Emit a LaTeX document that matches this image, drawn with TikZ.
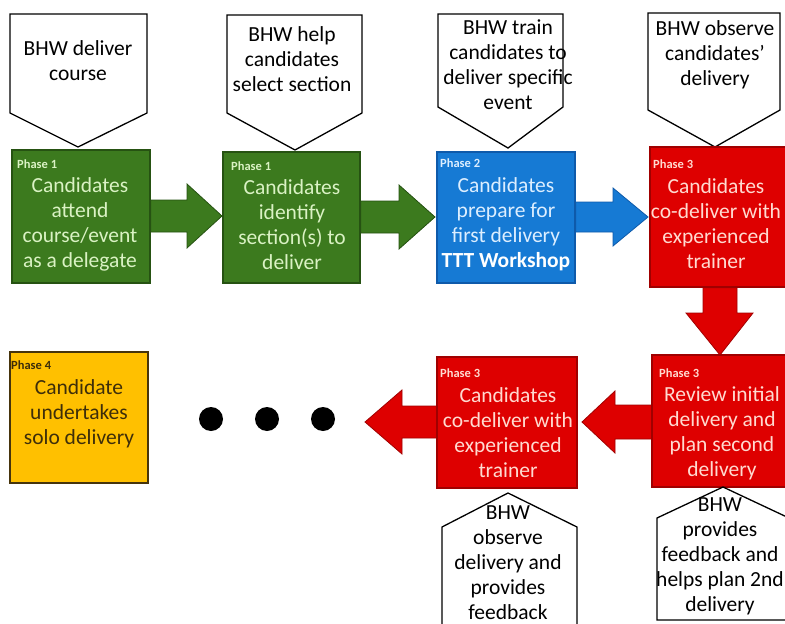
\documentclass[tikz,border=0pt]{standalone}
\usepackage{fontspec}
\setmainfont{Carlito}
\usetikzlibrary{calc}
\definecolor{gfill}{RGB}{60,122,30}
\definecolor{gedge}{RGB}{38,82,18}
\definecolor{gtext}{RGB}{218,242,196}
\definecolor{bfill}{RGB}{22,122,212}
\definecolor{bedge}{RGB}{14,90,170}
\definecolor{btext}{RGB}{220,238,255}
\definecolor{rfill}{RGB}{222,0,0}
\definecolor{redge}{RGB}{160,0,0}
\definecolor{rtext}{RGB}{255,218,208}
\definecolor{yfill}{RGB}{255,192,0}
\definecolor{yedge}{RGB}{70,52,12}
\definecolor{ytext}{RGB}{62,46,10}
\begin{document}
\begin{tikzpicture}[x=1pt,y=-1pt,
  boxst/.style={rectangle, line width=1.2pt, inner sep=0pt},
  gbox/.style={boxst, fill=gfill, draw=gedge},
  bbox/.style={boxst, fill=bfill, draw=bedge},
  rbox/.style={boxst, fill=rfill, draw=redge},
  ybox/.style={boxst, fill=yfill, draw=yedge},
  main/.style={font=\fontsize{21.5}{25}\selectfont, align=center, inner sep=0pt},
  phase/.style={font=\fontsize{12.5}{13}\selectfont\bfseries, anchor=west, inner sep=0pt},
  callout/.style={draw=black, line width=1.3pt, fill=white, line join=miter},
  garrow/.style={fill=gfill, draw=gedge, line width=0.8pt, line join=miter},
  barrow/.style={fill=bfill, draw=bedge, line width=0.8pt, line join=miter},
  rarrow/.style={fill=rfill, draw=redge, line width=0.8pt, line join=miter},
  dot/.style={circle, fill=black, minimum size=24pt, inner sep=0pt}
]
\useasboundingbox (0,0) rectangle (785,624);
\clip (0,0) rectangle (785,624);

% ---------- top callouts ----------
\draw[callout] (10,14) -- (147,14) -- (147,113) -- (78,147) -- (10,113) -- cycle;
\draw[callout] (227,15) -- (362,15) -- (362,113) -- (295,150) -- (227,113) -- cycle;
\draw[callout] (438,14) -- (563,14) -- (563,107) -- (508,148) -- (438,107) -- cycle;
\draw[callout] (648,13) -- (780,13) -- (780,110) -- (715,147) -- (648,110) -- cycle;
\node[main] (t1) at (78,61) {BHW deliver\\course};
\node[main] (t2) at (292,59) {BHW help\\candidates\\select section};
\node[main] (t3) at (508,65) {BHW train\\candidates to\\deliver specific\\event};
\node[main] (t4) at (715,55) {BHW observe\\candidates’\\delivery};

% ---------- boxes ----------
\node[gbox, minimum width=138pt, minimum height=133pt] (g1) at (81,216.5) {};
\node[gbox, minimum width=137pt, minimum height=131pt] (g2) at (291.5,217.5) {};
\node[bbox, minimum width=138pt, minimum height=131pt] (bl) at (506,217.5) {};
\node[rbox, minimum width=138pt, minimum height=140pt] (r1) at (719,217) {};
\node[rbox, minimum width=138pt, minimum height=132pt] (r2) at (721,421) {};
\node[rbox, minimum width=140pt, minimum height=131pt] (r3) at (507,422.5) {};
\node[ybox, minimum width=138pt, minimum height=131pt] (y1) at (79,417.5) {};

% ---------- arrows ----------
\coordinate (a1tip) at (222,216);
\draw[garrow] ($(g1.east |- a1tip)+(0,-16)$) -- (187,200) -- (187,184) -- (a1tip)
  -- (187,248) -- (187,232) -- ($(g1.east |- a1tip)+(0,16)$) -- cycle;
\coordinate (a2tip) at (435,217);
\draw[garrow] ($(g2.east |- a2tip)+(0,-16)$) -- (399,201) -- (399,185) -- (a2tip)
  -- (399,249) -- (399,233) -- ($(g2.east |- a2tip)+(0,16)$) -- cycle;
\coordinate (a3tip) at (648,217);
\draw[barrow] ($(bl.east |- a3tip)+(0,-15)$) -- (613,202) -- (613,188) -- (a3tip)
  -- (613,246) -- (613,232) -- ($(bl.east |- a3tip)+(0,15)$) -- cycle;
\coordinate (a4tip) at (720,355);
\draw[rarrow] ($(r1.south -| a4tip)+(-17,0)$) -- (703,313) -- (686,313) -- (a4tip)
  -- (753,313) -- (737,313) -- ($(r1.south -| a4tip)+(17,0)$) -- cycle;
\coordinate (a5tip) at (582,422);
\draw[rarrow] ($(r2.west |- a5tip)+(0,-17)$) -- (615,405) -- (615,391) -- (a5tip)
  -- (615,453) -- (615,439) -- ($(r2.west |- a5tip)+(0,17)$) -- cycle;
\coordinate (a6tip) at (365,422);
\draw[rarrow] ($(r3.west |- a6tip)+(0,-16)$) -- (402,406) -- (402,390) -- (a6tip)
  -- (402,454) -- (402,438) -- ($(r3.west |- a6tip)+(0,16)$) -- cycle;

% ---------- box texts ----------
\node[phase, text=gtext] (g1p) at (17,164) {Phase 1};
\node[main, text=gtext] (g1t) at (80,224) {Candidates\\attend\\course/event\\as a delegate};
\node[phase, text=gtext] (g2p) at (231,166) {Phase 1};
\node[main, text=gtext] (g2t) at (292,225) {Candidates\\identify\\section(s) to\\deliver};
\node[phase, text=btext] (blp) at (440,163) {Phase 2};
\node[main, text=btext] (blt) at (506,224) {Candidates\\prepare for\\first delivery\\\textbf{\color{white}TTT Workshop}};
\node[phase, text=rtext] (r1p) at (653,164) {Phase 3};
\node[main, text=rtext] (r1t) at (716,224) {Candidates\\co-deliver with\\experienced\\trainer};
\node[phase, text=rtext] (r2p) at (659,373) {Phase 3};
\node[main, text=rtext] (r2t) at (722,433) {Review initial\\delivery and\\plan second\\delivery};
\node[phase, text=rtext] (r3p) at (440,373) {Phase 3};
\node[main, text=rtext] (r3t) at (508,433) {Candidates\\co-deliver with\\experienced\\trainer};
\node[phase, text=ytext] (y1p) at (11,365) {Phase 4};
\node[main, text=ytext] (y1t) at (79,414) {Candidate\\undertakes\\solo delivery};

% ---------- dots ----------
\node[dot] (d1) at (211,419) {};
\node[dot] (d2) at (267,419) {};
\node[dot] (d3) at (323,419) {};

% ---------- bottom callouts ----------
\draw[callout] (508,493) -- (577,527) -- (577,640) -- (442,640) -- (442,527) -- cycle;
\draw[callout] (723,487) -- (789,518) -- (789,620) -- (657,620) -- (657,518) -- cycle;
\node[main] (b1) at (508,563) {BHW\\observe\\delivery and\\provides\\feedback};
\node[main] (b2) at (720,556) {BHW\\provides\\feedback and\\helps plan 2nd\\delivery};
\end{tikzpicture}
\end{document}
